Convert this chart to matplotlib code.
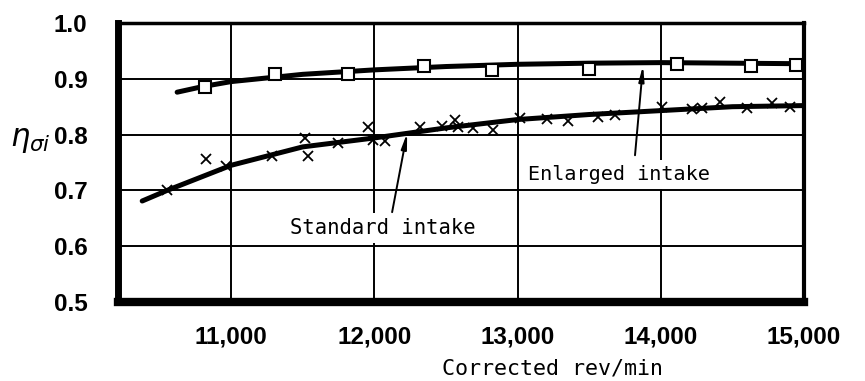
import matplotlib
matplotlib.use("Agg")
import matplotlib.pyplot as plt

# Measured points, enlarged intake (squares)
rpm_enlarged = [10818, 11307, 11817, 12347, 12822, 13499, 14113, 14630, 14944]
eta_enlarged = [0.885, 0.908, 0.908, 0.923, 0.916, 0.918, 0.927, 0.923, 0.925]

# Faired curve through the enlarged-intake points
rpm_enlarged_curve = [10623, 10800, 11000, 11500, 12000, 12500, 13000, 13500, 14000, 14500, 15000]
eta_enlarged_curve = [0.876, 0.886, 0.895, 0.908, 0.916, 0.922, 0.926, 0.928, 0.929, 0.928, 0.927]

# Measured points, standard intake (crosses)
rpm_standard = [10553, 10825, 10965, 11286, 11517, 11538, 11747, 11956, 11991, 12075,
                12319, 12473, 12564, 12585, 12689, 12829, 13017, 13206, 13353, 13562,
                13681, 14009, 14218, 14288, 14414, 14602, 14777, 14902]
eta_standard = [0.701, 0.756, 0.744, 0.762, 0.794, 0.762, 0.785, 0.814, 0.790, 0.789,
                0.814, 0.815, 0.826, 0.814, 0.812, 0.808, 0.830, 0.828, 0.824, 0.832,
                0.835, 0.849, 0.846, 0.848, 0.858, 0.848, 0.857, 0.849]

# Faired curve through the standard-intake points
rpm_standard_curve = [10379, 10553, 11000, 11500, 12000, 12500, 13000, 13500, 14000, 14500, 15000]
eta_standard_curve = [0.681, 0.700, 0.745, 0.778, 0.794, 0.812, 0.827, 0.836, 0.843, 0.850, 0.852]

x_ticks = [11000, 12000, 13000, 14000, 15000]
x_tick_labels = ["11,000", "12,000", "13,000", "14,000", "15,000"]
y_ticks = [0.5, 0.6, 0.7, 0.8, 0.9, 1.0]
y_tick_labels = ["0.5", "0.6", "0.7", "0.8", "0.9", "1.0"]

tick_font = ["Liberation Sans", "DejaVu Sans"]
note_font = ["DejaVu Sans Mono"]

fig = plt.figure(figsize=(8.65, 3.81), dpi=100)
ax = fig.add_axes([118 / 865, 1 - 302 / 381, (804 - 118) / 865, (302 - 23) / 381])

ax.set_xlim(10210, 15000)
ax.set_ylim(0.5, 1.0)

ax.set_xticks(x_ticks)
ax.set_xticklabels(x_tick_labels)
ax.set_yticks(y_ticks)
ax.set_yticklabels(y_tick_labels)
ax.tick_params(axis="both", length=0)
ax.tick_params(axis="x", pad=17)
ax.tick_params(axis="y", pad=22)
for lab in ax.get_xticklabels() + ax.get_yticklabels():
    lab.set_family(tick_font)
    lab.set_fontweight("bold")
    lab.set_fontsize(17.5)

ax.grid(True, color="black", linewidth=1.4)
ax.set_axisbelow(True)

ax.spines["left"].set_linewidth(5)
ax.spines["bottom"].set_linewidth(6)
ax.spines["right"].set_linewidth(3)
ax.spines["top"].set_linewidth(2.5)

# Curves
ax.plot(rpm_enlarged_curve, eta_enlarged_curve, color="black", linewidth=3.6,
        solid_capstyle="round", zorder=3)
ax.plot(rpm_standard_curve, eta_standard_curve, color="black", linewidth=3.6,
        solid_capstyle="round", zorder=3)

# Points
ax.plot(rpm_enlarged, eta_enlarged, linestyle="none", marker="s", markersize=8,
        markerfacecolor="white", markeredgecolor="black", markeredgewidth=1.5, zorder=4)
ax.plot(rpm_standard, eta_standard, linestyle="none", marker="x", markersize=7,
        color="black", markeredgewidth=1.3, zorder=4)

# Curve labels with leader arrows
box = dict(boxstyle="square,pad=0.25", facecolor="white", edgecolor="none")
ax.text(11412, 0.633, "Standard intake", family=note_font, fontsize=14.8,
        ha="left", va="center", bbox=box, zorder=2)
ax.text(13073, 0.728, "Enlarged intake", family=note_font, fontsize=14.5,
        ha="left", va="center", bbox=box, zorder=2)

arrow = dict(arrowstyle="-|>,head_length=0.9,head_width=0.16", color="black",
             linewidth=1.4, shrinkA=0, shrinkB=0)
ax.annotate("", xy=(12229, 0.803), xytext=(12124, 0.661), arrowprops=arrow, zorder=5)
ax.annotate("", xy=(13876, 0.924), xytext=(13820, 0.763), arrowprops=arrow, zorder=5)

# Axis titles
fig.text(442 / 865, 1 - 368 / 381, "Corrected rev/min", family=note_font, fontsize=15.6,
         ha="left", va="center")
fig.text(10 / 865, 1 - 146 / 381, r"$\eta_{\sigma i}$", fontsize=22, ha="left",
         va="baseline")

fig.savefig("out.png", dpi=100)
